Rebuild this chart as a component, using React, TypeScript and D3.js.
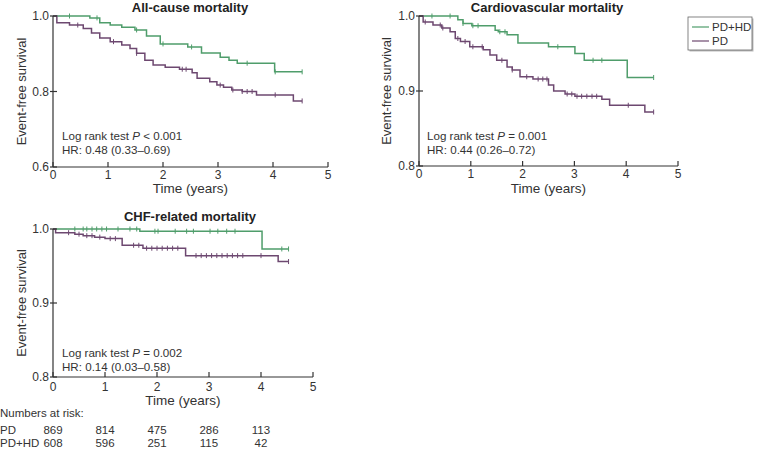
import React, { useRef, useEffect } from 'react'
import * as d3 from 'd3'

const width = 761
const height = 449
const FONT = "Arial, 'Liberation Sans', sans-serif"
const GREEN = '#4f9d6b'
const PURPLE = '#6d4870'

const xTicks = [0, 1, 2, 3, 4, 5]
const yTicksAll = [0.6, 0.8, 1.0]
const yTicksNarrow = [0.8, 0.9, 1.0]

// all-cause mortality
const allHdT = [0.67, 0.85, 1.04, 1.25, 1.49, 1.7, 1.95, 2.45, 2.7, 3.04, 3.2, 3.35, 4.03]
const allHdS = [0.995, 0.982, 0.976, 0.97, 0.963, 0.947, 0.926, 0.918, 0.902, 0.891, 0.883, 0.875, 0.852]
const allHdCens = [0.3, 0.8, 1.52, 2.0, 2.52, 3.53, 4.04]
const allPdT = [0.07, 0.3, 0.55, 0.7, 0.85, 1.04, 1.25, 1.4, 1.52, 1.67, 1.82, 2.04, 2.3, 2.53, 2.62, 2.85, 2.98, 3.1, 3.25, 3.44, 3.7, 4.37]
const allPdS = [0.982, 0.976, 0.967, 0.955, 0.942, 0.932, 0.923, 0.914, 0.901, 0.883, 0.87, 0.864, 0.859, 0.85, 0.835, 0.826, 0.817, 0.811, 0.804, 0.8, 0.791, 0.775]
const allPdCens = [0.45, 1.1, 1.52, 2.35, 2.42, 3.04, 3.27, 3.44, 3.53, 3.62, 4.04]

// cardiovascular mortality
const cvHdT = [0.75, 0.85, 1.02, 1.47, 1.53, 1.7, 1.91, 2.5, 3.01, 3.19, 4.02]
const cvHdS = [0.995, 0.99, 0.987, 0.981, 0.979, 0.975, 0.964, 0.959, 0.95, 0.941, 0.918]
const cvHdCens = [0.25, 0.6, 0.85, 1.04, 1.14, 1.56, 1.66, 2.68, 3.36, 3.53]
const cvPdT = [0.08, 0.27, 0.44, 0.6, 0.7, 0.8, 0.98, 1.24, 1.37, 1.5, 1.7, 1.8, 1.95, 2.2, 2.5, 2.6, 2.82, 3.01, 3.53, 3.68, 4.36]
const cvPdS = [0.992, 0.988, 0.984, 0.979, 0.97, 0.966, 0.959, 0.955, 0.948, 0.941, 0.932, 0.928, 0.919, 0.916, 0.908, 0.9, 0.896, 0.893, 0.889, 0.881, 0.872]
const cvPdCens = [0.12, 0.41, 0.46, 0.75, 0.89, 1.04, 1.22, 1.6, 1.8, 2.08, 2.3, 2.39, 2.47, 2.86, 2.95, 3.05, 3.14, 3.24, 3.34, 3.43, 4.04]

// CHF-related mortality
const chfHdT = [1.67, 4.02]
const chfHdS = [0.997, 0.973]
const chfHdCens = [0.42, 0.58, 0.65, 0.75, 0.84, 0.94, 1.03, 1.25, 1.48, 1.61, 1.96, 2.02, 2.35, 2.57, 2.7, 3.02, 3.17, 3.34, 3.5, 4.4]
const chfPdT = [0.05, 0.42, 0.58, 0.8, 1.0, 1.33, 1.73, 2.55, 4.33]
const chfPdS = [0.995, 0.993, 0.991, 0.989, 0.987, 0.978, 0.974, 0.964, 0.956]
const chfPdCens = [0.3, 0.5, 0.65, 0.75, 0.9, 1.1, 1.2, 1.55, 1.65, 1.8, 1.9, 2.0, 2.1, 2.2, 2.3, 2.4, 2.75, 2.85, 2.95, 3.05, 3.15, 3.25, 3.35, 3.45, 3.55, 3.65, 4.0]

const riskYears = [0, 1, 2, 3, 4]
const riskPD = [869, 814, 475, 286, 113]
const riskPDHD = [608, 596, 251, 115, 42]

const panels = [
  {
    title: 'All-cause mortality', titleX: 190, titleY: 12,
    x0: 53, x1: 328, yTop: 16, yBot: 167, yDomain: [0.6, 1.0], yTicks: yTicksAll,
    labelX: 21, tickDy: 12, axisTitleDy: 26, statsX: 62, statsY: 140,
    p: ' < 0.001', hr: 'HR: 0.48 (0.33–0.69)',
    curves: [
      { t: allHdT, s: allHdS, c: allHdCens, color: GREEN },
      { t: allPdT, s: allPdS, c: allPdCens, color: PURPLE },
    ],
  },
  {
    title: 'Cardiovascular mortality', titleX: 547, titleY: 12,
    x0: 419, x1: 678, yTop: 16, yBot: 166, yDomain: [0.8, 1.0], yTicks: yTicksNarrow,
    labelX: 386, tickDy: 12, axisTitleDy: 27, statsX: 427, statsY: 140,
    p: ' = 0.001', hr: 'HR: 0.44 (0.26–0.72)',
    curves: [
      { t: cvHdT, s: cvHdS, c: cvHdCens, color: GREEN },
      { t: cvPdT, s: cvPdS, c: cvPdCens, color: PURPLE },
    ],
  },
  {
    title: 'CHF-related mortality', titleX: 190, titleY: 221,
    x0: 53, x1: 313, yTop: 229, yBot: 377, yDomain: [0.8, 1.0], yTicks: yTicksNarrow,
    labelX: 21, tickDy: 14, axisTitleDy: 28, statsX: 62, statsY: 357,
    p: ' = 0.002', hr: 'HR: 0.14 (0.03–0.58)',
    curves: [
      { t: chfHdT, s: chfHdS, c: chfHdCens, color: GREEN },
      { t: chfPdT, s: chfPdS, c: chfPdCens, color: PURPLE },
    ],
  },
]

const END_T = 4.53

const App = () => {
  const ref = useRef(null)

  useEffect(() => {
    const svg = d3.select(ref.current)
    svg.selectAll('*').remove()
    svg.attr('width', width).attr('height', height).attr('viewBox', [0, 0, width, height])
      .style('font-family', FONT)

    svg.append('rect').attr('width', width).attr('height', height).attr('fill', '#fff')

    panels.forEach(p => {
      const x = d3.scaleLinear().domain([0, 5]).range([p.x0, p.x1])
      const y = d3.scaleLinear().domain(p.yDomain).range([p.yBot, p.yTop])
      const g = svg.append('g')

      g.append('text')
        .attr('x', p.titleX).attr('y', p.titleY)
        .attr('text-anchor', 'middle').attr('font-size', 13).attr('font-weight', 'bold')
        .attr('fill', '#222')
        .text(p.title)

      // curves
      p.curves.forEach(cv => {
        const pts = [[0, 1] as [number, number]]
        cv.t.forEach((t, i) => pts.push([t, cv.s[i]]))
        pts.push([END_T, cv.s[cv.s.length - 1]])
        const line = d3.line<[number, number]>()
          .x(d => x(d[0])).y(d => y(d[1]))
          .curve(d3.curveStepAfter)
        g.append('path').attr('d', line(pts)).attr('fill', 'none')
          .attr('stroke', cv.color).attr('stroke-width', 1.5)

        const survAt = (t: number) => {
          const i = d3.bisectRight(cv.t, t)
          return i === 0 ? 1 : cv.s[i - 1]
        }
        g.append('g').selectAll('line')
          .data([...cv.c, END_T])
          .join('line')
          .attr('x1', d => x(d)).attr('x2', d => x(d))
          .attr('y1', d => y(survAt(d)) - 2.5).attr('y2', d => y(survAt(d)) + 2.5)
          .attr('stroke', cv.color).attr('stroke-width', 1)
      })

      // axes
      const axisColor = '#333'
      g.append('line').attr('x1', p.x0).attr('x2', p.x1).attr('y1', p.yBot).attr('y2', p.yBot)
        .attr('stroke', axisColor).attr('stroke-width', 1.2)
      g.append('line').attr('x1', p.x0).attr('x2', p.x0).attr('y1', p.yBot).attr('y2', p.yTop)
        .attr('stroke', axisColor).attr('stroke-width', 1.2)

      g.append('g').selectAll('line').data(xTicks).join('line')
        .attr('x1', d => x(d)).attr('x2', d => x(d))
        .attr('y1', p.yBot).attr('y2', p.yBot - 5)
        .attr('stroke', axisColor).attr('stroke-width', 1.2)
      g.append('g').selectAll('text').data(xTicks).join('text')
        .attr('x', d => x(d)).attr('y', p.yBot + p.tickDy)
        .attr('text-anchor', 'middle').attr('font-size', 12).attr('fill', '#333')
        .text(d => d)

      g.append('g').selectAll('line').data(p.yTicks).join('line')
        .attr('x1', p.x0 - 3).attr('x2', p.x0 + 4)
        .attr('y1', d => y(d)).attr('y2', d => y(d))
        .attr('stroke', axisColor).attr('stroke-width', 1.2)
      g.append('g').selectAll('text').data(p.yTicks).join('text')
        .attr('x', p.x0 - 4).attr('y', d => y(d)).attr('dy', '0.36em')
        .attr('text-anchor', 'end').attr('font-size', 12).attr('fill', '#333')
        .text(d => d3.format('.1f')(d))

      g.append('text')
        .attr('x', (p.x0 + p.x1) / 2).attr('y', p.yBot + p.axisTitleDy)
        .attr('text-anchor', 'middle').attr('font-size', 13.5).attr('fill', '#333')
        .text('Time (years)')

      g.append('text')
        .attr('transform', `translate(${p.labelX},${(p.yTop + p.yBot) / 2}) rotate(-90)`)
        .attr('dy', '0.35em')
        .attr('text-anchor', 'middle').attr('font-size', 13).attr('fill', '#333')
        .text('Event-free survival')

      const st = g.append('text').attr('x', p.statsX).attr('y', p.statsY)
        .attr('font-size', 11.6).attr('fill', '#333')
      st.append('tspan').text('Log rank test ')
      st.append('tspan').attr('font-style', 'italic').text('P')
      st.append('tspan').text(p.p)
      g.append('text').attr('x', p.statsX).attr('y', p.statsY + 14)
        .attr('font-size', 11.6).attr('fill', '#333')
        .text(p.hr)
    })

    // legend
    const lg = svg.append('g')
    lg.append('rect').attr('x', 689.5).attr('y', 18.5).attr('width', 64).attr('height', 33)
      .attr('fill', '#bbb')
    lg.append('rect').attr('x', 688).attr('y', 17).attr('width', 64).attr('height', 33)
      .attr('fill', '#fff').attr('stroke', '#666').attr('stroke-width', 0.8)
    const legendItems = [
      { name: 'PD+HD', color: GREEN },
      { name: 'PD', color: PURPLE },
    ]
    legendItems.forEach((d, i) => {
      const yy = 27 + i * 14
      lg.append('line').attr('x1', 692).attr('x2', 709).attr('y1', yy).attr('y2', yy)
        .attr('stroke', d.color).attr('stroke-width', 1.2)
      lg.append('text').attr('x', 712).attr('y', yy).attr('dy', '0.36em')
        .attr('font-size', 11.5).attr('fill', '#333').text(d.name)
    })

    // numbers at risk
    const xr = d3.scaleLinear().domain([0, 5]).range([53, 313])
    svg.append('text').attr('x', 0).attr('y', 417).attr('font-size', 11.5).attr('fill', '#333')
      .text('Numbers at risk:')
    const rows = [
      { name: 'PD', vals: riskPD, y: 434 },
      { name: 'PD+HD', vals: riskPDHD, y: 447 },
    ]
    rows.forEach(r => {
      svg.append('text').attr('x', 0).attr('y', r.y).attr('font-size', 11.5).attr('fill', '#333')
        .text(r.name)
      svg.append('g').selectAll('text').data(r.vals).join('text')
        .attr('x', (d, i) => xr(riskYears[i]))
        .attr('y', r.y)
        .attr('text-anchor', 'middle').attr('font-size', 11.5).attr('fill', '#333')
        .text(d => d)
    })
  }, [])

  return (
    <div style={{ position: 'absolute', left: 0, top: 0 }}>
      <svg ref={ref} style={{ display: 'block' }} />
    </div>
  )
}

export default App
